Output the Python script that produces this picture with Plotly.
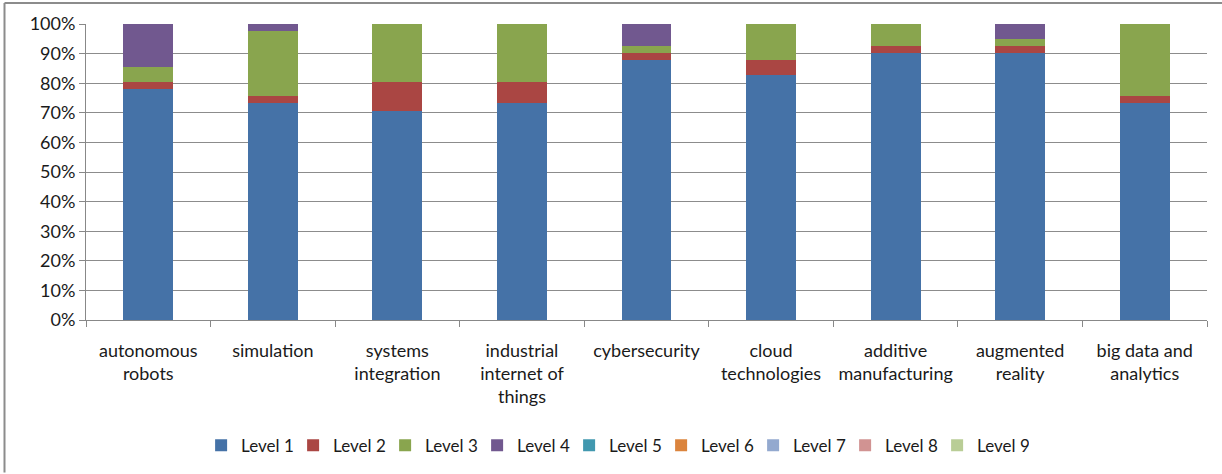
import plotly.graph_objects as go

# Technology areas (x categories)
categories = [
    "autonomous<br>robots",
    "simulation",
    "systems<br>integration",
    "industrial<br>internet of<br>things",
    "cybersecurity",
    "cloud<br>technologies",
    "additive<br>manufacturing",
    "augmented<br>reality",
    "big data and<br>analytics",
]

# Share of respondents per maturity level (%)
level_1 = [78.0, 73.2, 70.7, 73.2, 87.8, 82.9, 90.2, 90.2, 73.2]
level_2 = [2.4, 2.4, 9.8, 7.3, 2.4, 4.9, 2.4, 2.4, 2.4]
level_3 = [4.9, 22.0, 19.5, 19.5, 2.4, 12.2, 7.3, 2.4, 24.4]
level_4 = [14.6, 2.4, 0.0, 0.0, 7.3, 0.0, 0.0, 4.9, 0.0]
level_5 = [0, 0, 0, 0, 0, 0, 0, 0, 0]
level_6 = [0, 0, 0, 0, 0, 0, 0, 0, 0]
level_7 = [0, 0, 0, 0, 0, 0, 0, 0, 0]
level_8 = [0, 0, 0, 0, 0, 0, 0, 0, 0]
level_9 = [0, 0, 0, 0, 0, 0, 0, 0, 0]

series_names = [f"Level {i}" for i in range(1, 10)]
series_values = [level_1, level_2, level_3, level_4, level_5,
                 level_6, level_7, level_8, level_9]
series_colors = ["#4572A7", "#AA4643", "#89A54E", "#71588F", "#4198AF",
                 "#DB843D", "#93A9CF", "#D19392", "#B9CD96"]

y_ticks = [0, 10, 20, 30, 40, 50, 60, 70, 80, 90, 100]
y_tick_labels = ["0%", "10%", "20%", "30%", "40%", "50%",
                 "60%", "70%", "80%", "90%", "100%"]

fig = go.Figure()
for name, vals, color in zip(series_names, series_values, series_colors):
    fig.add_trace(go.Bar(
        x=categories, y=vals, name=name,
        marker=dict(color=color, line=dict(width=0)),
    ))

FONT = "Lato, 'Open Sans', sans-serif"
TXT = "#1a1a1a"

fig.update_layout(
    barmode="stack",
    barnorm="percent",
    bargap=0.6,
    width=1222, height=474,
    margin=dict(l=86, r=15, t=24, b=153),
    paper_bgcolor="white",
    plot_bgcolor="white",
    font=dict(family=FONT, size=18, color=TXT),
    showlegend=True,
    legend=dict(
        orientation="h",
        x=0.472, xanchor="center",
        y=-0.42, yanchor="middle",
        font=dict(family=FONT, size=17, color=TXT),
        itemwidth=30,
        traceorder="normal",
        entrywidth=47,
    ),
    xaxis=dict(
        range=[-0.5, 8.5],
        showgrid=False,
        ticks="outside",
        tickson="boundaries",
        ticklen=6,
        tickcolor="#888888",
        showline=True,
        linecolor="#888888",
        linewidth=1,
        ticklabelstandoff=14,
        tickfont=dict(family=FONT, size=18, color=TXT),
        fixedrange=True,
    ),
    yaxis=dict(
        range=[0, 100],
        tickmode="array",
        tickvals=y_ticks,
        ticktext=y_tick_labels,
        showgrid=True,
        gridcolor="#8c8c8c",
        gridwidth=1,
        ticks="outside",
        ticklen=6,
        tickcolor="#888888",
        showline=True,
        linecolor="#888888",
        linewidth=1,
        zeroline=False,
        tickfont=dict(family=FONT, size=18, color=TXT),
        fixedrange=True,
    ),
)

# Chart-area frame: top and left edges
plot_w = 1222 - 86 - 15
plot_h = 474 - 24 - 153
left_x = (4.5 - 86) / plot_w
top_y = (321 - 3) / plot_h
fig.add_shape(type="line", xref="paper", yref="paper",
              x0=left_x, x1=(1222 - 86) / plot_w, y0=top_y, y1=top_y,
              line=dict(color="#8c8c8c", width=2))
fig.add_shape(type="line", xref="paper", yref="paper",
              x0=left_x, x1=left_x, y0=top_y, y1=(321 - 474) / plot_h,
              line=dict(color="#8c8c8c", width=2))

fig.write_html("out.html")
